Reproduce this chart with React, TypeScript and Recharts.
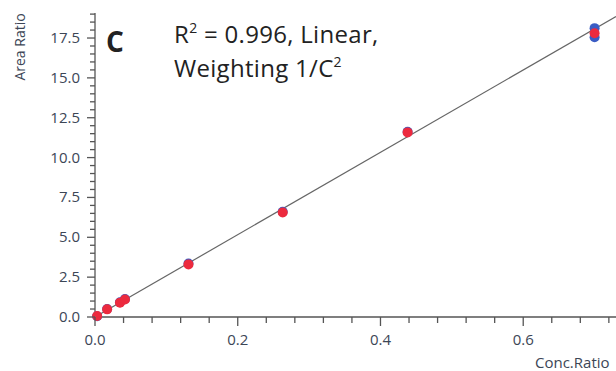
import { ScatterChart, Scatter, XAxis, YAxis } from 'recharts';

// calibration points (conc. ratio, area ratio)
const redPoints = [
  { x: 0.003, y: 0.06 },
  { x: 0.017, y: 0.48 },
  { x: 0.035, y: 0.9 },
  { x: 0.042, y: 1.1 },
  { x: 0.131, y: 3.3 },
  { x: 0.263, y: 6.55 },
  { x: 0.438, y: 11.58 },
  { x: 0.7, y: 17.8 },
];

const bluePoints = [
  { x: 0.003, y: 0.05 },
  { x: 0.017, y: 0.5 },
  { x: 0.035, y: 0.93 },
  { x: 0.042, y: 1.13 },
  { x: 0.131, y: 3.36 },
  { x: 0.263, y: 6.6 },
  { x: 0.438, y: 11.62 },
  { x: 0.7, y: 18.12 },
  { x: 0.7, y: 17.55 },
];

// fitted line end points
const fitLine = [
  { x: 0, y: 0 },
  { x: 0.73, y: 18.85 },
];

const yMajor = [0, 2.5, 5, 7.5, 10, 12.5, 15, 17.5];
const xMajor = [0, 0.2, 0.4, 0.6];

const yTicks: number[] = [];
for (let i = 0; i <= 38; i++) yTicks.push(i / 2);
const xTicks: number[] = [];
for (let i = 0; i <= 18; i++) xTicks.push(Math.round(i * 4) / 100);

const axisColor = '#555';
const textColor = '#3c4656';
const font = '"Open Sans", sans-serif';

const isMajor = (v: number, list: number[]) => list.some((m) => Math.abs(m - v) < 1e-6);

const YTick = (props: any) => {
  const { x, y, payload } = props;
  const major = isMajor(payload.value, yMajor);
  return (
    <g>
      <line x1={x - (major ? 8 : 5)} x2={x} y1={y} y2={y} stroke={axisColor} strokeWidth={1.3} />
      {major && (
        <text x={x - 15} y={y} dy={5} textAnchor="end" fontSize={15} fill={textColor} fontFamily={font}>
          {payload.value.toFixed(1)}
        </text>
      )}
    </g>
  );
};

const XTick = (props: any) => {
  const { x, y, payload } = props;
  const major = isMajor(payload.value, xMajor);
  return (
    <g>
      <line x1={x} x2={x} y1={y} y2={y + (major ? 9 : 6)} stroke={axisColor} strokeWidth={1.3} />
      {major && (
        <text x={x} y={y + 28} textAnchor="middle" fontSize={15} fill={textColor} fontFamily={font}>
          {payload.value.toFixed(1)}
        </text>
      )}
    </g>
  );
};

const Dot = (color: string) => (props: any) => (
  <circle cx={props.cx} cy={props.cy} r={5} fill={color} />
);

const supStyle = { fontSize: 14, position: 'relative' as const, top: -10, verticalAlign: 'baseline' };

export default function App() {
  return (
    <div
      style={{
        position: 'absolute',
        left: 0,
        top: 0,
        width: 616,
        height: 371,
        background: '#fff',
        fontFamily: font,
        overflow: 'hidden',
      }}
    >
      <ScatterChart width={616} height={371} margin={{ top: 13, right: 0, bottom: 0, left: 0 }}>
        <XAxis
          type="number"
          dataKey="x"
          domain={[0, 0.73]}
          ticks={xTicks}
          interval={0}
          tick={<XTick />}
          tickLine={false}
          tickSize={0}
          tickMargin={0}
          height={54}
          stroke={axisColor}
          strokeWidth={1.3}
        />
        <YAxis
          type="number"
          dataKey="y"
          domain={[0, 19.07]}
          ticks={yTicks}
          interval={0}
          tick={<YTick />}
          tickLine={false}
          tickSize={0}
          tickMargin={0}
          width={95}
          stroke={axisColor}
          strokeWidth={1.3}
        />
        <Scatter
          data={fitLine}
          line={{ stroke: '#666', strokeWidth: 1.2 }}
          shape={() => null}
          isAnimationActive={false}
        />
        <Scatter data={bluePoints} fill="#3a5cc4" shape={Dot('#3a5cc4')} isAnimationActive={false} />
        <Scatter data={redPoints} fill="#ec2a3e" shape={Dot('#ec2a3e')} isAnimationActive={false} />
      </ScatterChart>

      <div
        style={{
          position: 'absolute',
          left: 19,
          top: 47,
          transform: 'translate(-50%, -50%) rotate(-90deg)',
          fontSize: 14,
          color: textColor,
          whiteSpace: 'nowrap',
        }}
      >
        Area Ratio
      </div>
      <div
        style={{
          position: 'absolute',
          left: 535,
          top: 355,
          fontSize: 15,
          lineHeight: 1,
          color: textColor,
          whiteSpace: 'nowrap',
        }}
      >
        Conc.Ratio
      </div>
      <div
        style={{ position: 'absolute', left: 106, top: 27, fontSize: 28, lineHeight: 1, fontWeight: 700, color: '#222' }}
      >
        C
      </div>
      <div
        style={{
          position: 'absolute',
          left: 174,
          top: 19,
          fontSize: 24,
          lineHeight: '30px',
          letterSpacing: 0.3,
          color: '#222',
          whiteSpace: 'nowrap',
        }}
      >
        R<span style={supStyle}>2</span> = 0.996, Linear,
        <br />
        Weighting 1/C<span style={supStyle}>2</span>
      </div>
    </div>
  );
}
